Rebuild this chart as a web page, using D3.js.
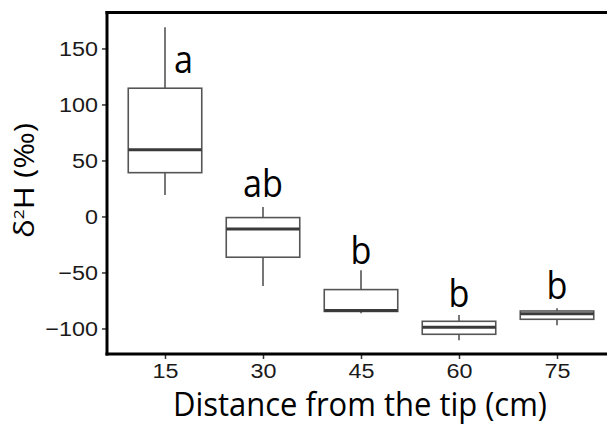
<!DOCTYPE html>
<html>
<head>
<meta charset="utf-8">
<script src="https://cdn.jsdelivr.net/npm/d3@7"></script>
<style>
  body { margin: 0; background: #fff; overflow: hidden; }
  svg { display: block; }
</style>
</head>
<body>
<div id="chart"></div>
<script>
// distance from the tip (cm)
const distances = ['15', '30', '45', '60', '75'];
// box stats (per mille)
const whiskerHigh = [169, 8.5, -48, -88, -82];
const q3 = [114.5, -1, -65.3, -93.6, -84.4];
const medians = [59.6, -11.2, -84, -99, -86.8];
const q1 = [39.1, -36.4, -84.8, -105.2, -91.8];
const whiskerLow = [19.2, -62, -86.4, -110.5, -97.1];
// significance letters and where they sit (baseline value)
const groupLetters = ['a', 'ab', 'b', 'b', 'b'];
const letterY = [128, 17.7, -42.4, -81, -74];
const yTicks = [-100, -50, 0, 50, 100, 150];

const width = 607, height = 424;
const margin = { top: 12.5, right: -13, bottom: 70, left: 107 };

const svg = d3.select('#chart')
  .append('svg')
  .attr('width', width)
  .attr('height', height);

const x = d3.scalePoint()
  .domain(distances)
  .range([165, 557]);

const y = d3.scaleLinear()
  .domain([-122.8, 182.1])
  .range([height - margin.bottom, margin.top]);

const boxW = x.step() * 0.75;
const data = distances.map((d, i) => ({
  key: d, lo: whiskerLow[i], q1: q1[i], med: medians[i], q3: q3[i], hi: whiskerHigh[i],
  letter: groupLetters[i], ly: letterY[i]
}));

// squeeze / stretch a text horizontally to a factor of its natural width
function stretch(sel, k) {
  sel.each(function () {
    const w = this.getComputedTextLength();
    d3.select(this).attr('textLength', w * k).attr('lengthAdjust', 'spacingAndGlyphs');
  });
}

// boxes
const g = svg.append('g');
g.selectAll('.whisker-up')
  .data(data).enter().append('line')
  .attr('x1', d => x(d.key)).attr('x2', d => x(d.key))
  .attr('y1', d => y(d.q3)).attr('y2', d => y(d.hi))
  .attr('stroke', '#555').attr('stroke-width', 1.6);
g.selectAll('.whisker-down')
  .data(data).enter().append('line')
  .attr('x1', d => x(d.key)).attr('x2', d => x(d.key))
  .attr('y1', d => y(d.q1)).attr('y2', d => y(d.lo))
  .attr('stroke', '#555').attr('stroke-width', 1.6);
g.selectAll('rect.box')
  .data(data).enter().append('rect')
  .attr('class', 'box')
  .attr('x', d => x(d.key) - boxW / 2)
  .attr('width', boxW)
  .attr('y', d => y(d.q3))
  .attr('height', d => y(d.q1) - y(d.q3))
  .attr('fill', '#fff')
  .attr('stroke', '#555')
  .attr('stroke-width', 1.6);
g.selectAll('.median')
  .data(data).enter().append('line')
  .attr('x1', d => x(d.key) - boxW / 2).attr('x2', d => x(d.key) + boxW / 2)
  .attr('y1', d => y(d.med)).attr('y2', d => y(d.med))
  .attr('stroke', '#3a3a3a').attr('stroke-width', 3);

// letters (the first one sits beside its whisker)
g.selectAll('.letter')
  .data(data).enter().append('text')
  .attr('x', (d, i) => x(d.key) + (i === 0 ? 18.5 : 0))
  .attr('y', d => y(d.ly))
  .attr('text-anchor', 'middle')
  .style('font-family', '"Open Sans", sans-serif')
  .style('font-size', '38px')
  .attr('fill', '#000')
  .text(d => d.letter)
  .call(stretch, 0.9);

// axes
const xAxis = svg.append('g')
  .attr('transform', `translate(0,${height - margin.bottom})`)
  .call(d3.axisBottom(x).tickSize(5).tickPadding(4).tickSizeOuter(0));
const yAxis = svg.append('g')
  .attr('transform', `translate(${margin.left},0)`)
  .call(d3.axisLeft(y).tickValues(yTicks).tickSize(5).tickPadding(4)
    .tickFormat(d => d < 0 ? '\u2212' + Math.abs(d) : d));

[xAxis, yAxis].forEach(a => {
  a.select('.domain').remove();
  a.selectAll('.tick line').attr('stroke', '#333').attr('stroke-width', 1.5);
  a.selectAll('.tick text')
    .attr('fill', '#1a1a1a')
    .style('font-family', '"Liberation Sans", Arial, sans-serif')
    .style('font-size', '20.5px')
    .call(stretch, 1.14);
});

// panel frame: left, bottom and top lines
svg.append('line')
  .attr('x1', margin.left).attr('x2', margin.left)
  .attr('y1', margin.top - 1.5).attr('y2', height - margin.bottom + 1.5)
  .attr('stroke', '#000').attr('stroke-width', 3);
svg.append('line')
  .attr('x1', margin.left - 1.5).attr('x2', width)
  .attr('y1', height - margin.bottom).attr('y2', height - margin.bottom)
  .attr('stroke', '#000').attr('stroke-width', 3);
svg.append('line')
  .attr('x1', margin.left - 1.5).attr('x2', width)
  .attr('y1', margin.top).attr('y2', margin.top)
  .attr('stroke', '#000').attr('stroke-width', 3);

// axis titles
svg.append('text')
  .attr('x', 360)
  .attr('y', 416)
  .attr('text-anchor', 'middle')
  .style('font-family', '"Open Sans", sans-serif')
  .style('font-size', '32px')
  .attr('textLength', 374)
  .attr('lengthAdjust', 'spacingAndGlyphs')
  .text('Distance from the tip (cm)');

const yTitle = svg.append('text')
  .attr('transform', `translate(34,180.5) rotate(-90)`)
  .attr('text-anchor', 'middle')
  .style('font-family', '"Open Sans", sans-serif')
  .style('font-size', '27px')
  .attr('textLength', 115)
  .attr('lengthAdjust', 'spacingAndGlyphs');
yTitle.append('tspan').text('\u03b4');
yTitle.append('tspan').attr('dy', -10).style('font-size', '15px').text('2');
yTitle.append('tspan').attr('dy', 10).text('H (\u2030)');
</script>
</body>
</html>
